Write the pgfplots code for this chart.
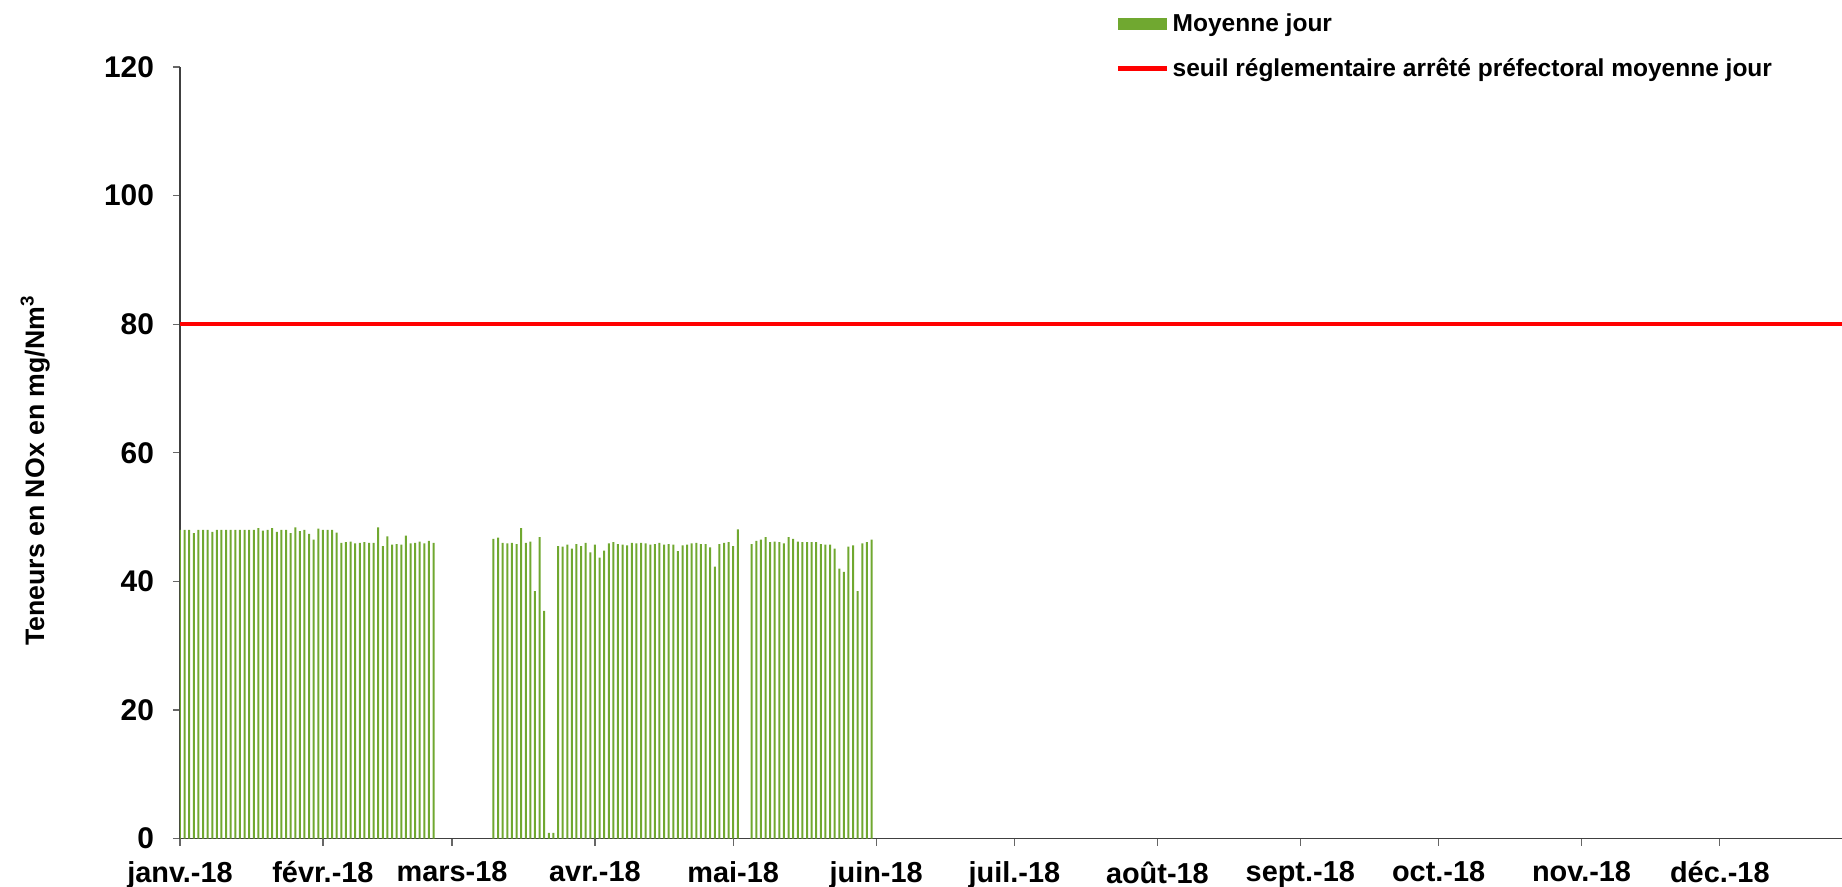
\documentclass[border=0pt]{standalone}
\usepackage{fontspec}
\setmainfont{Liberation Sans}
\usepackage{pgfplots}
\pgfplotsset{compat=1.18}
\usepackage{pgfplotstable}
\definecolor{barg}{RGB}{112,168,48}
\pgfplotstableread{
d v
0 48.0
1 48.0
2 48.0
3 47.5
4 48.0
5 48.0
6 48.0
7 47.7
8 48.0
9 48.0
10 48.0
11 48.0
12 48.0
13 48.0
14 48.0
15 48.0
16 48.0
17 48.3
18 47.9
19 48.0
20 48.3
21 47.7
22 48.0
23 48.0
24 47.5
25 48.4
26 47.8
27 48.0
28 47.4
29 46.5
30 48.2
31 48.0
32 48.0
33 48.0
34 47.6
35 46.0
36 46.1
37 46.2
38 45.9
39 46.0
40 46.1
41 46.0
42 46.0
43 48.4
44 45.5
45 47.0
46 45.7
47 45.8
48 45.7
49 47.1
50 45.9
51 46.0
52 46.2
53 45.9
54 46.3
55 46.0
68 46.6
69 46.8
70 46.0
71 45.9
72 46.0
73 45.8
74 48.3
75 46.0
76 46.2
77 38.5
78 46.9
79 35.4
80 0.9
81 0.9
82 45.5
83 45.4
84 45.7
85 45.1
86 45.8
87 45.5
88 46.0
89 44.5
90 45.7
91 43.7
92 44.8
93 45.9
94 46.1
95 45.8
96 45.7
97 45.6
98 46.0
99 45.9
100 46.0
101 45.9
102 45.7
103 45.8
104 46.0
105 45.7
106 45.8
107 45.7
108 44.7
109 45.6
110 45.7
111 45.9
112 46.0
113 45.8
114 45.8
115 45.3
116 42.3
117 45.8
118 46.0
119 46.1
120 45.5
121 48.1
124 45.8
125 46.3
126 46.5
127 46.9
128 46.1
129 46.2
130 46.1
131 45.9
132 46.9
133 46.6
134 46.2
135 46.1
136 46.1
137 46.1
138 46.1
139 45.8
140 45.7
141 45.7
142 45.1
143 42.0
144 41.5
145 45.4
146 45.6
147 38.5
148 45.9
149 46.1
150 46.5
}\data
\begin{document}
\begin{tikzpicture}
\path[use as bounding box] (-90bp,-24.2bp) rectangle (831bp,419.3bp);
\begin{axis}[
  scale only axis, width=831bp, height=385.8bp,
  xmin=0, xmax=360.5, ymin=0, ymax=120,
  axis x line*=bottom, axis y line*=left,
  axis line style={black!75, line width=0.6bp},
  tick align=outside, major tick length=3.5bp,
  tick style={black!60, line width=0.6bp},
  xtick={0,31,59,90,120,151,181,212,243,273,304,334},
  xticklabels={janv.-18,févr.-18,mars-18,avr.-18,mai-18,juin-18,juil.-18,août-18,sept.-18,oct.-18,nov.-18,déc.-18},
  ytick={0,20,40,60,80,100,120},
  xticklabel style={font=\fontsize{14.5}{14.5}\selectfont\bfseries, yshift=-4.5bp},
  yticklabel style={font=\fontsize{15}{15}\selectfont\bfseries, /pgf/number format/assume math mode=true, xshift=-6bp},
  ylabel={Teneurs en NOx en mg/Nm\textsuperscript{3}},
  every axis y label/.style={at={(axis description cs:-0.0871,0.477)}, rotate=90, anchor=center, font=\fontsize{13.4}{13.4}\selectfont\bfseries},
  legend style={at={(0.563,1.074)}, anchor=north west, draw=none, fill=none, inner sep=0pt, row sep=9bp, font=\fontsize{12.3}{12.3}\selectfont\bfseries, nodes={inner sep=1.5bp}},
  legend cell align=left,
]
\addplot[ybar, bar width=1bp, fill=barg, draw=none,
  legend image code/.code={\fill[barg] (0bp,-3bp) rectangle (24.5bp,3bp);}]
  table[x=d, y=v]{\data};
\addlegendentry{Moyenne jour}
\addplot[red, line width=2.3bp,
  legend image code/.code={\draw[red, line width=2.3bp] (0bp,0bp) -- (24.5bp,0bp);}]
  coordinates {(0,80) (365,80)};
\addlegendentry{seuil réglementaire arrêté préfectoral moyenne jour}
\end{axis}
\end{tikzpicture}
\end{document}
